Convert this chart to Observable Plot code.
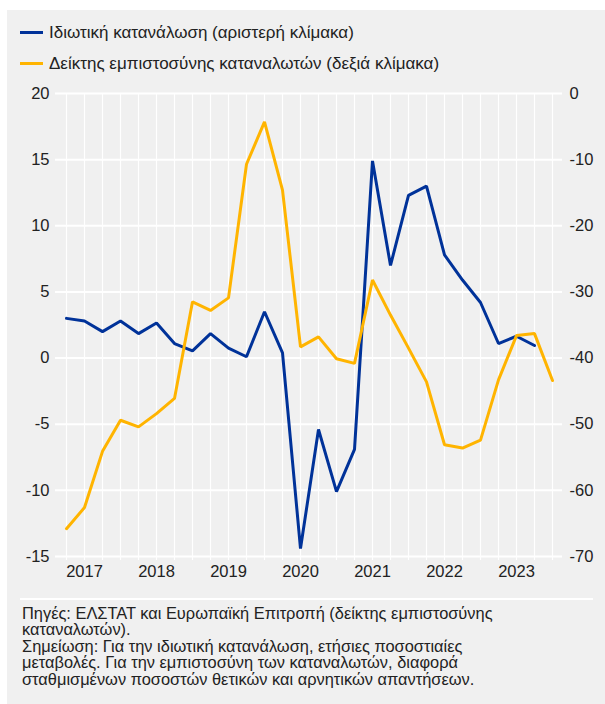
<!DOCTYPE html>
<html>
<head>
<meta charset="utf-8">
<script src="https://cdn.jsdelivr.net/npm/d3@7"></script>
<script src="https://cdn.jsdelivr.net/npm/@observablehq/plot@0.6"></script>
<style>
  html, body { margin: 0; padding: 0; background: #ffffff; }
  #panel {
    position: absolute; left: 7px; top: 10px; width: 598px; height: 694px;
    background: #f0f0f0; overflow: hidden;
    font-family: "Liberation Sans", Arial, Helvetica, sans-serif; color: #222;
  }
  .leg { position: absolute; left: 42px; font-size: 17px; line-height: 20px; white-space: nowrap; }
  .sw { position: absolute; left: 13px; width: 23px; height: 3px; }
  #chart { position: absolute; left: 0; top: 70px; }
  #sep { position: absolute; left: 13px; top: 588px; width: 573px; height: 2px; background: #ffffff; }
  #caption { position: absolute; left: 15px; top: 595px; font-size: 16.4px; line-height: 16.4px; white-space: nowrap; }
</style>
</head>
<body>
<div id="panel">
  <div class="sw" id="sw1"></div>
  <div class="leg" id="leg1"></div>
  <div class="sw" id="sw2"></div>
  <div class="leg" id="leg2"></div>
  <div id="chart"></div>
  <div id="sep"></div>
  <div id="caption"></div>
</div>
<script>
// ---- data ----
const quarters = [
  "2017Q1","2017Q2","2017Q3","2017Q4",
  "2018Q1","2018Q2","2018Q3","2018Q4",
  "2019Q1","2019Q2","2019Q3","2019Q4",
  "2020Q1","2020Q2","2020Q3","2020Q4",
  "2021Q1","2021Q2","2021Q3","2021Q4",
  "2022Q1","2022Q2","2022Q3","2022Q4",
  "2023Q1","2023Q2","2023Q3","2023Q4"
];
// Private consumption, annual % change (left scale), 2017Q1–2023Q3
const consumption = [3.0, 2.8, 2.0, 2.8, 1.85, 2.65, 1.1, 0.55, 1.85, 0.75, 0.1, 3.5,
  0.4, -14.4, -5.4, -10.1, -6.9, 14.9, 7.0, 12.3, 13.0, 7.8, 5.9, 4.2, 1.1, 1.65, 0.95];
// Consumer confidence indicator (right scale), 2017Q1–2023Q4
const confidence = [-65.8, -62.6, -54.1, -49.4, -50.4, -48.4, -46.1, -31.5, -32.8, -30.9,
  -10.7, -4.3, -14.6, -38.3, -36.8, -40.1, -40.8, -28.2, -33.5, -38.5, -43.6, -53.1,
  -53.6, -52.4, -43.3, -36.6, -36.3, -43.4];
const leftTicks = [-15, -10, -5, 0, 5, 10, 15, 20];
const yearTicks = ["2017Q2","2018Q2","2019Q2","2020Q2","2021Q2","2022Q2","2023Q2"];
const seriesNames = ["Ιδιωτική κατανάλωση (αριστερή κλίμακα)", "Δείκτης εμπιστοσύνης καταναλωτών (δεξιά κλίμακα)"];
const seriesColors = ["#003299", "#ffb400"];
const captionLines = [
  "Πηγές: ΕΛΣΤΑΤ και Ευρωπαϊκή Επιτροπή (δείκτης εμπιστοσύνης",
  "καταναλωτών).",
  "Σημείωση: Για την ιδιωτική κατανάλωση, ετήσιες ποσοστιαίες",
  "μεταβολές. Για την εμπιστοσύνη των καταναλωτών, διαφορά",
  "σταθμισμένων ποσοστών θετικών και αρνητικών απαντήσεων."
];

// right scale mapping: right = 2*left - 40
const toLeft = r => (r + 40) / 2;
const toRight = l => 2 * l - 40;

const consData = consumption.map((v, i) => ({q: quarters[i], v}));
const confData = confidence.map((v, i) => ({q: quarters[i], v}));

// legend
document.getElementById("leg1").textContent = seriesNames[0];
document.getElementById("leg2").textContent = seriesNames[1];
const sw1 = document.getElementById("sw1"), sw2 = document.getElementById("sw2");
sw1.style.background = seriesColors[0]; sw1.style.top = "21px";
sw2.style.background = seriesColors[1]; sw2.style.top = "52px";
document.getElementById("leg1").style.top = "13px";
document.getElementById("leg2").style.top = "44px";

// caption
document.getElementById("caption").innerHTML = captionLines.map(s => s.replace(/&/g,"&amp;")).join("<br>");

const yMin = d3.min(leftTicks), yMax = d3.max(leftTicks);

const chart = Plot.plot({
  width: 598,
  height: 520,
  marginLeft: 48,
  marginRight: 43,
  marginTop: 13,
  marginBottom: 44,
  style: {fontFamily: "'Liberation Sans', Arial, Helvetica, sans-serif", fontSize: "16.5px", color: "#222", background: "transparent", overflow: "visible"},
  x: {type: "point", domain: quarters, padding: 0, label: null},
  y: {domain: [yMin, yMax], label: null},
  marks: [
    Plot.ruleX(quarters, {x: d => d, y1: yMin - 0.3, y2: yMax, stroke: "#ffffff", strokeWidth: 1.2}),
    Plot.ruleY(leftTicks, {y: d => d, stroke: "#ffffff", strokeWidth: 2}),
    Plot.axisY(leftTicks, {anchor: "left", label: null, tickSize: 0, tickPadding: 6, tickFormat: d => String(d)}),
    Plot.axisY(leftTicks, {anchor: "right", label: null, tickSize: 0, tickPadding: 7, tickFormat: d => String(toRight(d))}),
    Plot.axisX(yearTicks, {anchor: "bottom", label: null, tickSize: 0, tickPadding: 9, tickFormat: d => d.slice(0, 4)}),
    Plot.line(consData, {x: "q", y: "v", stroke: seriesColors[0], strokeWidth: 3, strokeLinejoin: "miter"}),
    Plot.line(confData, {x: "q", y: d => toLeft(d.v), stroke: seriesColors[1], strokeWidth: 3, strokeLinejoin: "miter"})
  ]
});
document.getElementById("chart").appendChild(chart);
</script>
</body>
</html>
